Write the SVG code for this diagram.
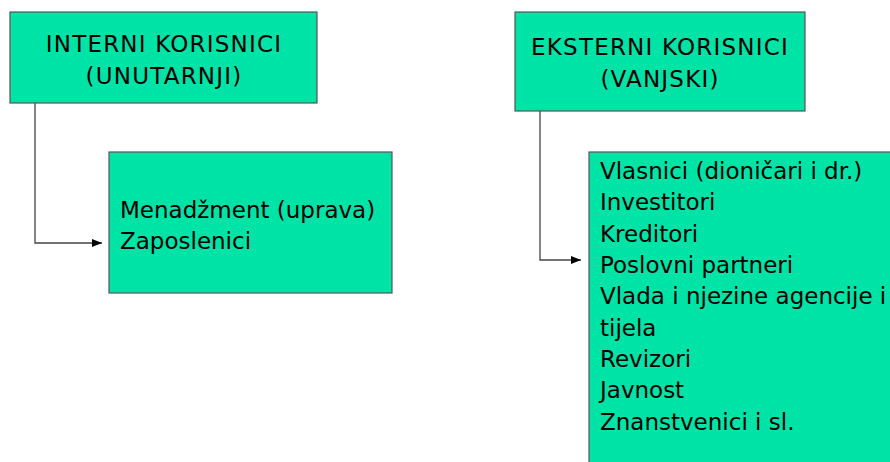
<svg xmlns="http://www.w3.org/2000/svg" width="890" height="462" viewBox="0 0 890 462">
<defs>
<style>
.box{fill:#00E3A6;stroke:#555;stroke-width:1.2}
.t{font-family:"DejaVu Sans",sans-serif;font-size:23px;fill:#000}
.c{text-anchor:middle;letter-spacing:1.2px}
.conn{fill:none;stroke:#444;stroke-width:1.3}
</style>
<marker id="ah" markerWidth="10" markerHeight="8" refX="10" refY="4" orient="auto" markerUnits="userSpaceOnUse">
<path d="M0,0 L10,4 L0,8 z" fill="#000"/>
</marker>
</defs>
<rect width="890" height="462" fill="#fff"/>
<g id="connectors">
<path class="conn" d="M35,103 V243 H102" marker-end="url(#ah)"/>
<path class="conn" d="M540,111 V260 H581" marker-end="url(#ah)"/>
</g>
<g id="interni">
<rect class="box" x="10" y="12" width="307" height="91"/>
<text class="t c" x="164" y="52">INTERNI KORISNICI</text>
<text class="t c" x="164" y="84">(UNUTARNJI)</text>
</g>
<g id="interni-list">
<rect class="box" x="109" y="152" width="283" height="141"/>
<text class="t" x="120" y="218">Menadžment (uprava)</text>
<text class="t" x="120" y="249">Zaposlenici</text>
</g>
<g id="eksterni">
<rect class="box" x="515" y="12" width="290" height="99"/>
<text class="t c" x="660" y="55">EKSTERNI KORISNICI</text>
<text class="t c" x="660" y="87">(VANJSKI)</text>
</g>
<g id="eksterni-list">
<rect class="box" x="589" y="152" width="310" height="320"/>
<text class="t" x="600" y="179">Vlasnici (dioničari i dr.)</text>
<text class="t" x="600" y="210.3">Investitori</text>
<text class="t" x="600" y="241.6">Kreditori</text>
<text class="t" x="600" y="273">Poslovni partneri</text>
<text class="t" x="600" y="304.3">Vlada i njezine agencije i</text>
<text class="t" x="600" y="335.6">tijela</text>
<text class="t" x="600" y="367">Revizori</text>
<text class="t" x="600" y="398.3">Javnost</text>
<text class="t" x="600" y="429.6">Znanstvenici i sl.</text>
</g>
</svg>
